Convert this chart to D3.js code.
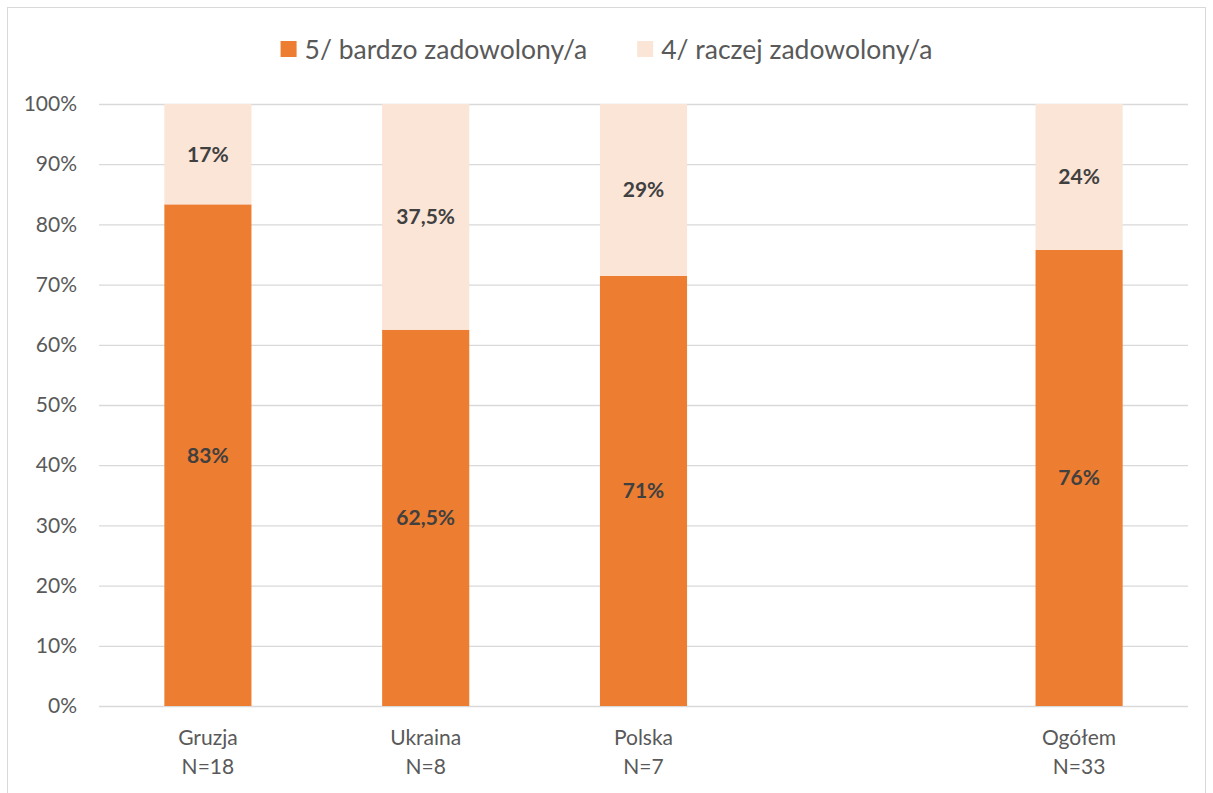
<!DOCTYPE html>
<html lang="pl">
<head>
<meta charset="utf-8">
<title>Zadowolenie</title>
<script src="https://cdn.jsdelivr.net/npm/d3@7"></script>
<style>
  body { margin: 0; background: #fff; }
  svg text { font-family: Lato, "Open Sans", sans-serif; }
  .tick text { fill: #595959; font-size: 21px; }
  .val { fill: #404040; font-size: 21px; font-weight: bold; }
</style>
</head>
<body>
<div id="chart"></div>
<script>
// data
var categories = ["Gruzja", "Ukraina", "Polska", "", "Ogółem"];
var nLabels = ["N=18", "N=8", "N=7", "", "N=33"];
var veryValues = [83.33, 62.5, 71.43, null, 75.76];
var ratherValues = [16.67, 37.5, 28.57, null, 24.24];
var veryLabels = ["83%", "62,5%", "71%", "", "76%"];
var ratherLabels = ["17%", "37,5%", "29%", "", "24%"];
var seriesNames = ["5/ bardzo zadowolony/a", "4/ raczej zadowolony/a"];
var yTicks = [0, 10, 20, 30, 40, 50, 60, 70, 80, 90, 100];

var colors = ["#ED7D31", "#FBE5D6"];
var W = 1213, H = 793;
var margin = {top: 104, right: 25, bottom: 87, left: 99};

var svg = d3.select("#chart").append("svg")
  .attr("width", W).attr("height", H);

// outer border like the excel frame
svg.append("rect")
  .attr("x", 7.5).attr("y", 7.5)
  .attr("width", W - 15).attr("height", H)
  .attr("fill", "none").attr("stroke", "#d9d9d9").attr("stroke-width", 1);

var keys = categories.map(function(c, i) { return c === "" ? "_gap" + i : c; });

var x = d3.scaleBand()
  .domain(keys)
  .range([margin.left, W - margin.right])
  .paddingInner(0.6)
  .paddingOuter(0.3);

var y = d3.scaleLinear()
  .domain([0, 100])
  .range([H - margin.bottom, margin.top]);

// gridlines
svg.append("g").selectAll("line").data(yTicks).enter().append("line")
  .attr("x1", margin.left).attr("x2", W - margin.right)
  .attr("y1", function(d) { return y(d) + 0.5; })
  .attr("y2", function(d) { return y(d) + 0.5; })
  .attr("stroke", "#d9d9d9").attr("stroke-width", 1.3);

// y axis
var yAxis = svg.append("g")
  .attr("transform", "translate(" + margin.left + ",0)")
  .call(d3.axisLeft(y).tickValues(yTicks).tickSize(0).tickPadding(22)
    .tickFormat(function(d) { return d + "%"; }));
yAxis.select(".domain").remove();

// bars
var rows = keys.map(function(k, i) {
  return {key: k, very: veryValues[i], rather: ratherValues[i], vl: veryLabels[i], rl: ratherLabels[i]};
}).filter(function(d) { return d.very !== null; });

var g = svg.append("g");
g.selectAll("rect.very").data(rows).enter().append("rect")
  .attr("class", "very")
  .attr("x", function(d) { return x(d.key); })
  .attr("width", x.bandwidth())
  .attr("y", function(d) { return y(d.very); })
  .attr("height", function(d) { return y(0) - y(d.very); })
  .attr("fill", colors[0]);

g.selectAll("rect.rather").data(rows).enter().append("rect")
  .attr("class", "rather")
  .attr("x", function(d) { return x(d.key); })
  .attr("width", x.bandwidth())
  .attr("y", function(d) { return y(d.very + d.rather); })
  .attr("height", function(d) { return y(d.very) - y(d.very + d.rather); })
  .attr("fill", colors[1]);

// value labels
g.selectAll("text.vl").data(rows).enter().append("text")
  .attr("class", "val")
  .attr("x", function(d) { return x(d.key) + x.bandwidth() / 2; })
  .attr("y", function(d) { return y(d.very / 2); })
  .attr("dy", "0.35em")
  .attr("text-anchor", "middle")
  .text(function(d) { return d.vl; });

g.selectAll("text.rl").data(rows).enter().append("text")
  .attr("class", "val")
  .attr("x", function(d) { return x(d.key) + x.bandwidth() / 2; })
  .attr("y", function(d) { return y(d.very + d.rather / 2); })
  .attr("dy", "0.35em")
  .attr("text-anchor", "middle")
  .text(function(d) { return d.rl; });

// x labels
var xl = svg.append("g").selectAll("text").data(keys).enter().append("text")
  .attr("x", function(d) { return x(d) + x.bandwidth() / 2; })
  .attr("text-anchor", "middle")
  .attr("fill", "#595959")
  .style("font-size", "21px");
xl.append("tspan")
  .attr("x", function(d) { return x(d) + x.bandwidth() / 2; })
  .attr("y", 745)
  .text(function(d, i) { return categories[i]; });
xl.append("tspan")
  .attr("x", function(d) { return x(d) + x.bandwidth() / 2; })
  .attr("y", 774)
  .text(function(d, i) { return nLabels[i]; });

// legend
var legend = svg.append("g");
var items = legend.selectAll("g").data(seriesNames).enter().append("g");
items.append("rect")
  .attr("width", 16).attr("height", 16)
  .attr("y", 41)
  .attr("fill", function(d, i) { return colors[i]; });
items.append("text")
  .attr("x", 24).attr("y", 59)
  .attr("fill", "#595959")
  .style("font-size", "26.5px")
  .text(function(d) { return d; });
var offs = [], total = 0;
items.each(function() {
  var w = this.getBBox().width;
  offs.push(total);
  total += w + 50;
});
total -= 50;
var start = (W - total) / 2;
items.attr("transform", function(d, i) { return "translate(" + (start + offs[i]) + ",0)"; });
</script>
</body>
</html>
